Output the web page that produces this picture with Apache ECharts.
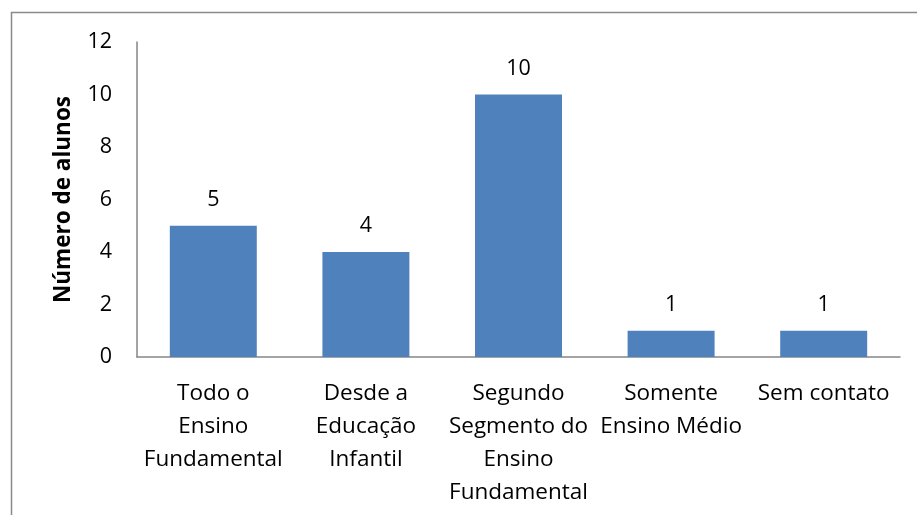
<!DOCTYPE html>
<html>
<head>
<meta charset="utf-8">
<script src="https://cdn.jsdelivr.net/npm/echarts@6/dist/echarts.min.js"></script>
<style>
  html, body { margin: 0; padding: 0; background: #ffffff; }
  #chart { width: 917px; height: 515px; }
</style>
</head>
<body>
<div id="chart"></div>
<script>
// Quantidade de alunos por tempo de contato com a escola
const categories = [
  'Todo o\nEnsino\nFundamental',
  'Desde a\nEducação\nInfantil',
  'Segundo\nSegmento do\nEnsino\nFundamental',
  'Somente\nEnsino Médio',
  'Sem contato'
];
const alunos = [5, 4, 10, 1, 1];
const yAxisTitle = 'Número de alunos';

const FONT = '"Open Sans", sans-serif';
const chart = echarts.init(document.getElementById('chart'), null, { renderer: 'canvas' });

chart.setOption({
  animation: false,
  backgroundColor: '#ffffff',
  graphic: [{
    type: 'rect',
    shape: { x: 11.5, y: 12.5, width: 920, height: 520 },
    style: { fill: 'none', stroke: '#8a8a8a', lineWidth: 1.5 },
    silent: true,
    z: 100
  }],
  grid: { left: 137, right: 17, top: 42, bottom: 158, containLabel: false },
  xAxis: {
    type: 'category',
    data: categories,
    axisLine: { lineStyle: { color: '#868686', width: 1.5 } },
    axisTick: { show: false },
    axisLabel: {
      interval: 0,
      color: '#000000',
      fontFamily: FONT,
      fontSize: 22.5,
      lineHeight: 33,
      margin: 20
    }
  },
  yAxis: {
    type: 'value',
    min: 0,
    max: 12,
    interval: 2,
    name: yAxisTitle,
    nameLocation: 'middle',
    nameGap: 62,
    nameRotate: 90,
    nameTextStyle: { color: '#000000', fontFamily: FONT, fontSize: 22.5, fontWeight: 'bold' },
    axisLine: { show: true, lineStyle: { color: '#868686', width: 1.5 } },
    axisTick: { show: false },
    splitLine: { show: false },
    axisLabel: { color: '#000000', fontFamily: FONT, fontSize: 21.5, margin: 25 }
  },
  series: [{
    type: 'bar',
    data: alunos,
    barCategoryGap: '43%',
    itemStyle: { color: '#4f81bd' },
    label: {
      show: true,
      position: 'top',
      distance: 15,
      color: '#000000',
      fontFamily: FONT,
      fontSize: 21.5
    }
  }]
});
</script>
</body>
</html>
